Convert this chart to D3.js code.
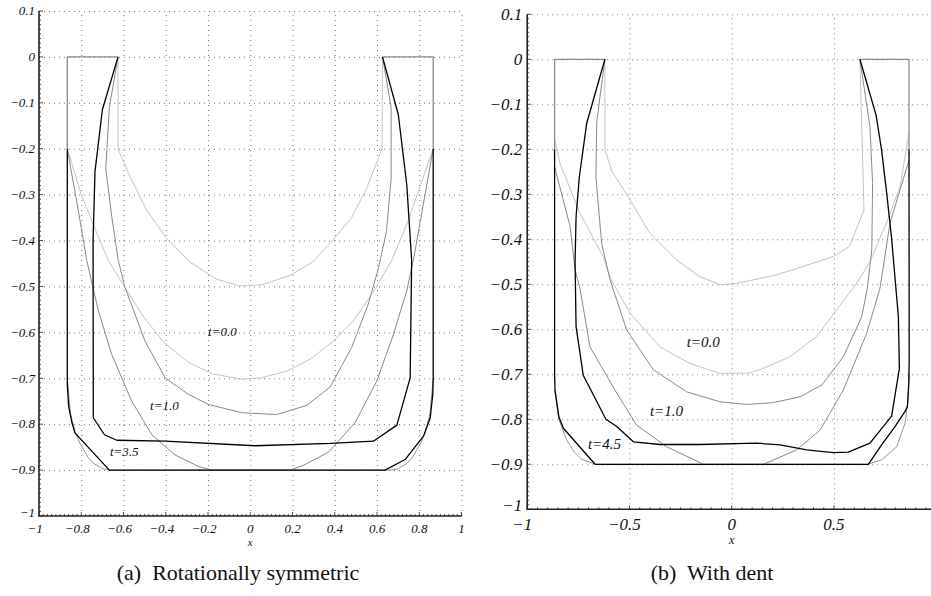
<!DOCTYPE html>
<html>
<head>
<meta charset="utf-8">
<script src="https://cdn.jsdelivr.net/npm/d3@7/dist/d3.min.js"></script>
<style>
  body { margin: 0; background: #fff; }
  svg { display: block; }
  text { font-family: "Liberation Serif", "Times New Roman", "DejaVu Serif", serif; }
</style>
</head>
<body>
<svg id="chart" width="931" height="596"></svg>
<script>
// ---------- Panel (a): rotationally symmetric ----------
const aTicksX = [-1, -0.8, -0.6, -0.4, -0.2, 0, 0.2, 0.4, 0.6, 0.8, 1];
const aTicksY = [0.1, 0, -0.1, -0.2, -0.3, -0.4, -0.5, -0.6, -0.7, -0.8, -0.9, -1];

const aCapLeft  = [[-0.866, -0.2], [-0.866, 0], [-0.626, 0]];
const aCapRight = [[0.626, 0], [0.866, 0], [0.866, -0.2]];
const aWall = [[-0.866, -0.70], [-0.851, -0.777], [-0.827, -0.82], [-0.807, -0.841], [-0.768, -0.872],
  [-0.743, -0.885], [-0.70, -0.897], [-0.666, -0.9], [0.666, -0.9], [0.70, -0.897], [0.743, -0.885],
  [0.768, -0.872], [0.807, -0.841], [0.827, -0.82], [0.851, -0.777], [0.866, -0.70]];

const aT0Inner = [[-0.626, 0], [-0.626, -0.2], [-0.57, -0.26], [-0.49, -0.334], [-0.40, -0.393],
  [-0.285, -0.447], [-0.16, -0.484], [-0.048, -0.499], [0.06, -0.496], [0.188, -0.476], [0.295, -0.447],
  [0.39, -0.40], [0.48, -0.35], [0.552, -0.285], [0.624, -0.2], [0.626, 0]];
const aT0Outer = [[-0.866, -0.2], [-0.80, -0.30], [-0.738, -0.371], [-0.672, -0.443], [-0.593, -0.502],
  [-0.514, -0.56], [-0.41, -0.622], [-0.293, -0.665], [-0.18, -0.69], [-0.045, -0.702], [0.05, -0.699],
  [0.175, -0.684], [0.285, -0.658], [0.394, -0.619], [0.488, -0.575], [0.583, -0.512], [0.67, -0.443],
  [0.745, -0.36], [0.866, -0.2]];
const aT1Inner = [[-0.626, 0], [-0.667, -0.11], [-0.684, -0.243], [-0.655, -0.35], [-0.625, -0.443],
  [-0.593, -0.502], [-0.498, -0.619], [-0.403, -0.699], [-0.293, -0.735], [-0.198, -0.757], [-0.04, -0.775],
  [0.125, -0.779], [0.268, -0.759], [0.378, -0.719], [0.48, -0.633], [0.559, -0.538], [0.607, -0.46],
  [0.645, -0.38], [0.667, -0.265], [0.667, -0.11], [0.626, 0]];
const aT1Outer = [[-0.866, -0.2], [-0.81, -0.345], [-0.774, -0.443], [-0.719, -0.553], [-0.656, -0.648],
  [-0.561, -0.75], [-0.466, -0.823], [-0.356, -0.867], [-0.246, -0.892], [-0.182, -0.9], [0.188, -0.9],
  [0.25, -0.89], [0.37, -0.861], [0.496, -0.797], [0.599, -0.706], [0.678, -0.604], [0.741, -0.509],
  [0.772, -0.443], [0.81, -0.345], [0.866, -0.2]];
const aT35Inner = [[-0.626, 0], [-0.70, -0.115], [-0.735, -0.25], [-0.744, -0.40], [-0.743, -0.786],
  [-0.69, -0.823], [-0.632, -0.835], [-0.403, -0.837], [0.023, -0.847], [0.378, -0.842], [0.583, -0.837],
  [0.694, -0.802], [0.757, -0.699], [0.764, -0.443], [0.741, -0.279], [0.701, -0.126], [0.626, 0]];
const aT35Outer = [[-0.866, -0.2], [-0.866, -0.714], [-0.86, -0.76], [-0.845, -0.795], [-0.83, -0.819],
  [-0.667, -0.9], [0.638, -0.9], [0.733, -0.877], [0.82, -0.826], [0.852, -0.786], [0.864, -0.735],
  [0.866, -0.70], [0.866, -0.2]];

// ---------- Panel (b): with dent ----------
const bTicksX = [-1, -0.5, 0, 0.5];
const bTicksY = [0.1, 0, -0.1, -0.2, -0.3, -0.4, -0.5, -0.6, -0.7, -0.8, -0.9, -1];

const bCapLeft  = [[-0.866, -0.2], [-0.866, 0], [-0.62, 0]];
const bCapRight = [[0.627, 0], [0.867, 0], [0.867, -0.2]];
const bWall = [[-0.866, -0.735], [-0.845, -0.80], [-0.807, -0.846], [-0.77, -0.873], [-0.733, -0.889],
  [-0.668, -0.9], [0.668, -0.9], [0.733, -0.89], [0.807, -0.861], [0.847, -0.809], [0.862, -0.76],
  [0.868, -0.70]];

const bT0Inner = [[-0.62, 0], [-0.62, -0.2], [-0.587, -0.248], [-0.50, -0.31], [-0.40, -0.387],
  [-0.269, -0.446], [-0.155, -0.483], [-0.057, -0.501], [0.024, -0.498], [0.22, -0.479], [0.399, -0.453],
  [0.497, -0.438], [0.575, -0.416], [0.647, -0.335], [0.627, 0]];
const bT0Outer = [[-0.866, -0.178], [-0.84, -0.231], [-0.742, -0.342], [-0.628, -0.439], [-0.59, -0.49],
  [-0.497, -0.564], [-0.351, -0.639], [-0.204, -0.676], [-0.057, -0.698], [0.089, -0.697], [0.138, -0.69],
  [0.285, -0.661], [0.416, -0.616], [0.513, -0.557], [0.611, -0.498], [0.676, -0.45], [0.76, -0.36],
  [0.823, -0.283], [0.867, -0.164]];
const bT1Inner = [[-0.62, 0], [-0.66, -0.139], [-0.664, -0.261], [-0.636, -0.409], [-0.595, -0.49],
  [-0.513, -0.602], [-0.383, -0.69], [-0.22, -0.739], [-0.057, -0.761], [0.073, -0.767], [0.203, -0.763],
  [0.334, -0.75], [0.44, -0.724], [0.546, -0.661], [0.636, -0.572], [0.663, -0.509], [0.685, -0.424],
  [0.689, -0.276], [0.676, -0.15], [0.627, 0]];
const bT1Outer = [[-0.866, -0.239], [-0.79, -0.372], [-0.766, -0.468], [-0.742, -0.509], [-0.693, -0.639],
  [-0.571, -0.735], [-0.465, -0.813], [-0.318, -0.861], [-0.147, -0.898], [-0.14, -0.9], [0.155, -0.9],
  [0.318, -0.868], [0.432, -0.824], [0.546, -0.735], [0.66, -0.609], [0.725, -0.509], [0.774, -0.364],
  [0.867, -0.224]];
const bT45Inner = [[-0.62, 0], [-0.709, -0.142], [-0.745, -0.261], [-0.761, -0.35], [-0.766, -0.45],
  [-0.761, -0.594], [-0.726, -0.702], [-0.615, -0.80], [-0.562, -0.816], [-0.481, -0.85], [-0.351, -0.856],
  [-0.155, -0.856], [0.122, -0.853], [0.236, -0.857], [0.367, -0.868], [0.497, -0.874], [0.57, -0.873],
  [0.676, -0.853], [0.782, -0.793], [0.82, -0.687], [0.815, -0.572], [0.803, -0.509], [0.782, -0.398],
  [0.758, -0.298], [0.733, -0.202], [0.706, -0.124], [0.627, 0]];
const bT45Outer = [[-0.866, -0.2], [-0.866, -0.70], [-0.864, -0.735], [-0.845, -0.795], [-0.823, -0.82],
  [-0.668, -0.9], [0.668, -0.9], [0.733, -0.857], [0.80, -0.815], [0.847, -0.783], [0.859, -0.772],
  [0.866, -0.72], [0.868, -0.668], [0.867, -0.2]];

const LIGHT = "#c4c4c4", MID = "#8a8a8a", DARK = "#000";

const svg = d3.select("#chart");

function drawPanel(p) {
  const x = d3.scaleLinear().domain([-1, 1]).range(p.xRange);
  const y = d3.scaleLinear().domain([-1, 0.1]).range(p.yRange);
  const g = svg.append("g");

  // dotted grid
  const grid = g.append("g").attr("stroke", "#7a7a7a").attr("stroke-width", 1)
    .attr("stroke-dasharray", "1,4").attr("fill", "none");
  grid.selectAll("line.v").data(p.ticksX.filter(v => v > -1)).join("line")
    .attr("x1", d => x(d) + 0.5).attr("x2", d => x(d) + 0.5)
    .attr("y1", y(-1)).attr("y2", y(0.1));
  grid.selectAll("line.h").data(p.ticksY.filter(v => v > -1)).join("line")
    .attr("class", "h")
    .attr("y1", d => y(d) + 0.5).attr("y2", d => y(d) + 0.5)
    .attr("x1", x(-1)).attr("x2", p.gridRight);

  // curves: container, light (t=0), mid (t=1), dark (late time)
  const line = d3.line().x(d => x(d[0])).y(d => y(d[1]));
  const curves = g.append("g").attr("fill", "none").attr("stroke-linejoin", "round");
  p.series.forEach(s => {
    curves.append("path").attr("d", line(s.pts))
      .attr("stroke", s.color).attr("stroke-width", s.w);
  });

  // axes (left and bottom), ruler-like minor ticks pointing inward
  const ax = g.append("g").attr("stroke", "#222").attr("fill", "none");
  ax.append("path")
    .attr("d", `M${x(-1)},${y(0.1)}V${y(-1)}H${p.axisRight}`)
    .attr("stroke-width", 1.6);
  const minorY = d3.range(-100, 11).map(k => k / 100);
  ax.selectAll("line.my").data(minorY).join("line")
    .attr("x1", x(-1)).attr("x2", d => x(-1) + (Math.abs(d * 10 - Math.round(d * 10)) < 1e-6 ? 4 : 2))
    .attr("y1", d => y(d)).attr("y2", d => y(d)).attr("stroke-width", 0.8);
  const minorX = d3.range(-100, 101, p.minorStepX).map(k => k / 100);
  ax.selectAll("line.mx").data(minorX).join("line")
    .attr("x1", d => x(d)).attr("x2", d => x(d))
    .attr("y1", y(-1)).attr("y2", d => y(-1) - (p.ticksX.some(t => Math.abs(t - d) < 1e-6) ? 4 : 2))
    .attr("stroke-width", 0.8);

  const fmt = v => (v < 0 ? "\u2212" : "") + Math.abs(v).toString();

  // tick labels
  g.append("g").selectAll("text").data(p.ticksY).join("text")
    .attr("x", x(-1) - p.yLabelGap).attr("y", d => y(d))
    .attr("dy", d => d === -1 ? "0.1em" : "0.33em").attr("text-anchor", "end")
    .attr("font-style", "italic").attr("font-size", p.tickFont).attr("fill", "#111")
    .text(fmt);
  g.append("g").selectAll("text").data(p.ticksX).join("text")
    .attr("x", d => x(d) - (d < 0 ? p.negShift : 0)).attr("y", y(-1) + p.xLabelGap)
    .attr("text-anchor", "middle")
    .attr("font-style", "italic").attr("font-size", p.tickFont).attr("fill", "#111")
    .text(fmt);

  // axis title
  g.append("text").attr("x", x(0)).attr("y", p.xTitleY)
    .attr("text-anchor", "middle").attr("font-style", "italic")
    .attr("font-size", p.xTitleFont).attr("fill", "#111").text("x");

  // time labels
  g.append("g").selectAll("text").data(p.labels).join("text")
    .attr("x", d => x(d.x)).attr("y", d => y(d.y)).attr("dy", "0.33em")
    .attr("font-style", "italic").attr("font-size", p.labelFont).attr("fill", "#111")
    .text(d => d.text);

  // caption
  svg.append("text").attr("x", p.captionX).attr("y", 580)
    .attr("text-anchor", "middle").attr("font-size", 22).attr("fill", "#111")
    .attr("xml:space", "preserve")
    .text(p.caption);
}

drawPanel({
  xRange: [39, 461.5], yRange: [516, 11],
  ticksX: aTicksX, ticksY: aTicksY,
  gridRight: 461.5, axisRight: 461.5, minorStepX: 2,
  tickFont: 13, yLabelGap: 4, xLabelGap: 17, negShift: 4,
  xTitleY: 546, xTitleFont: 11, labelFont: 13,
  series: [
    { pts: aWall, color: MID, w: 0.9 },
    { pts: aT0Inner, color: LIGHT, w: 1 },
    { pts: aT0Outer, color: LIGHT, w: 1 },
    { pts: aT1Inner, color: MID, w: 1 },
    { pts: aT1Outer, color: MID, w: 1 },
    { pts: aCapLeft, color: MID, w: 1.3 },
    { pts: aCapRight, color: MID, w: 1.3 },
    { pts: aT35Inner, color: DARK, w: 1.3 },
    { pts: aT35Outer, color: DARK, w: 1.3 }
  ],
  labels: [
    { text: "t=0.0", x: -0.2, y: -0.598 },
    { text: "t=1.0", x: -0.474, y: -0.759 },
    { text: "t=3.5", x: -0.664, y: -0.861 }
  ],
  captionX: 238, caption: "(a)  Rotationally symmetric"
});

drawPanel({
  xRange: [527.2, 936.2], yRange: [509.3, 14.3],
  ticksX: bTicksX, ticksY: bTicksY,
  gridRight: 931, axisRight: 931, minorStepX: 5,
  tickFont: 17, yLabelGap: 5, xLabelGap: 21, negShift: 5,
  xTitleY: 544, xTitleFont: 12, labelFont: 15,
  series: [
    { pts: bWall, color: MID, w: 0.9 },
    { pts: bT0Inner, color: LIGHT, w: 1 },
    { pts: bT0Outer, color: LIGHT, w: 1 },
    { pts: bT1Inner, color: MID, w: 1 },
    { pts: bT1Outer, color: MID, w: 1 },
    { pts: bCapLeft, color: MID, w: 1.3 },
    { pts: bCapRight, color: MID, w: 1.3 },
    { pts: bT45Inner, color: DARK, w: 1.3 },
    { pts: bT45Outer, color: DARK, w: 1.3 }
  ],
  labels: [
    { text: "t=0.0", x: -0.22, y: -0.628 },
    { text: "t=1.0", x: -0.40, y: -0.781 },
    { text: "t=4.5", x: -0.703, y: -0.855 }
  ],
  captionX: 712, caption: "(b)  With dent"
});
</script>
</body>
</html>
